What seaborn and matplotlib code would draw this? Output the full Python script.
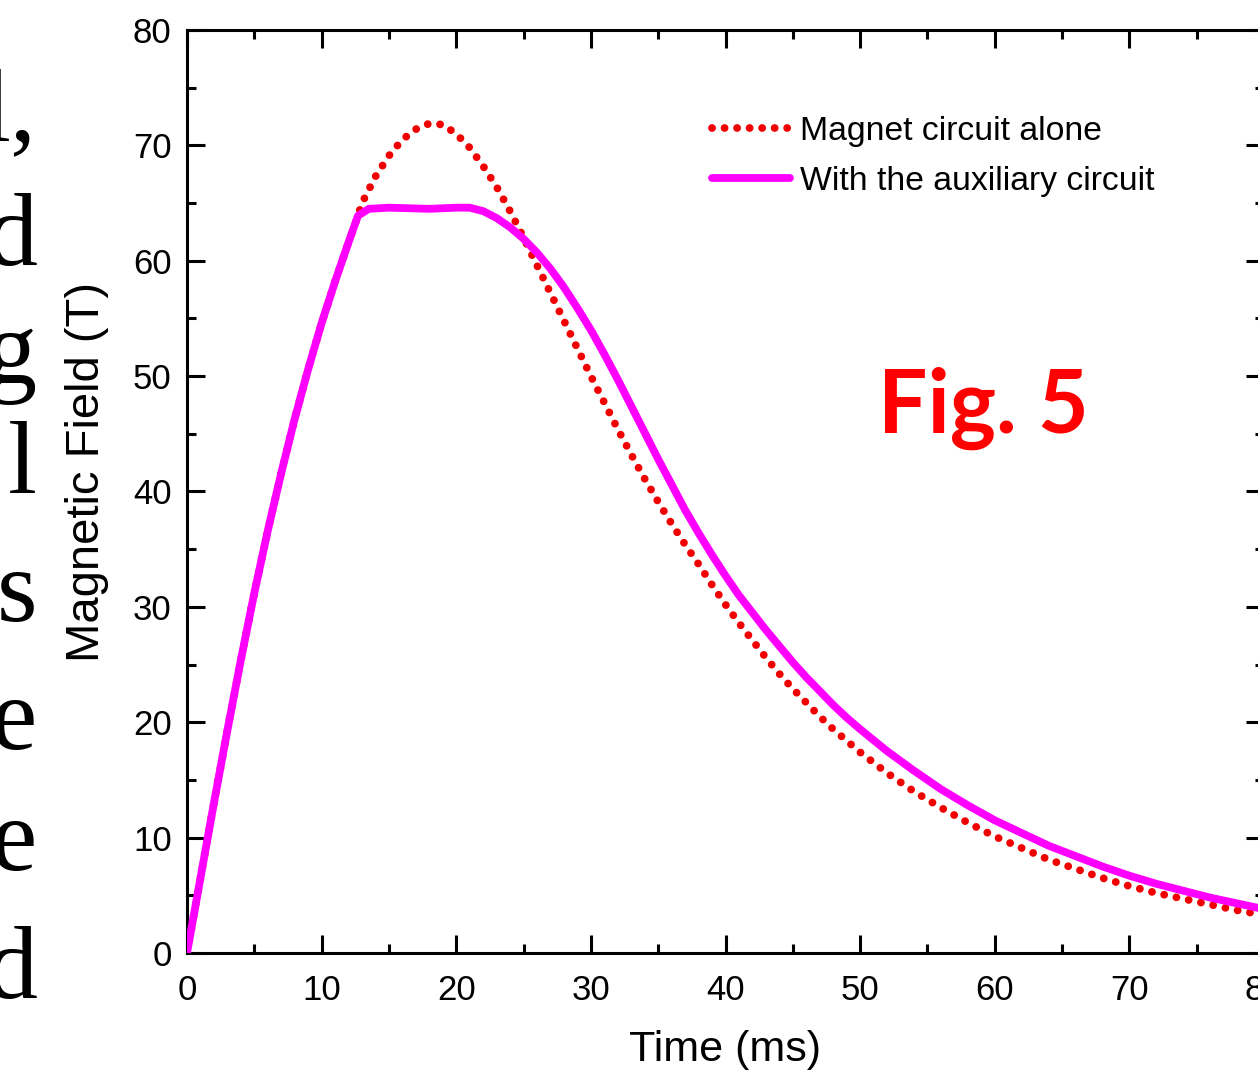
import matplotlib
matplotlib.use('Agg')
import matplotlib.pyplot as plt
from matplotlib.ticker import MultipleLocator
import pandas as pd
import seaborn as sns

# ---------------------------
# Data
# ---------------------------
t_alone = [0, 1, 2, 3, 4, 5, 6, 7, 8, 9, 10, 11, 12, 12.7, 13, 14, 15, 16, 17, 18,
           19, 20, 21, 22, 23, 24, 25, 26, 27, 28, 29, 30, 31, 32, 33, 34, 35, 36,
           37, 38, 39, 40, 41, 42, 43, 44, 45, 46, 47, 48, 49, 50, 52, 54, 56, 58,
           60, 62, 64, 66, 68, 70, 72, 74, 76, 78, 80]
b_alone = [0, 6.5, 13.0, 19.3, 25.4, 31.2, 36.6, 41.6, 46.3, 50.6, 54.6, 58.2, 61.6,
           63.9, 65.0, 67.3, 69.1, 70.5, 71.4, 71.9, 71.8, 71.0, 69.8, 68.2, 66.4,
           64.3, 62.0, 59.6, 57.2, 54.8, 52.4, 50.0, 47.7, 45.4, 43.2, 41.1, 39.1,
           37.2, 35.4, 33.7, 31.9, 30.2, 28.6, 27.1, 25.6, 24.2, 22.9, 21.7, 20.5,
           19.4, 18.4, 17.4, 15.6, 14.0, 12.6, 11.3, 10.1, 9.1, 8.1, 7.3, 6.5, 5.8,
           5.2, 4.7, 4.2, 3.7, 3.3]

t_aux = [0, 1, 2, 3, 4, 5, 6, 7, 8, 9, 10, 11, 12, 12.7, 13.5, 15, 18, 20, 21, 22,
         23, 24, 25, 26, 27, 28, 29, 30, 31, 32, 33, 34, 35, 36, 37, 38, 39, 40,
         41, 42, 43, 44, 45, 46, 47, 48, 49, 50, 52, 54, 56, 58, 60, 62, 64, 66,
         68, 70, 72, 74, 76, 78, 80]
b_aux = [0, 6.5, 13.0, 19.3, 25.4, 31.2, 36.6, 41.6, 46.3, 50.6, 54.6, 58.2, 61.6,
         63.9, 64.5, 64.6, 64.5, 64.6, 64.6, 64.3, 63.7, 62.9, 61.9, 60.7, 59.3,
         57.7, 55.9, 54.0, 51.9, 49.7, 47.4, 45.1, 42.8, 40.6, 38.4, 36.4, 34.5,
         32.7, 31.0, 29.5, 28.0, 26.6, 25.2, 23.9, 22.7, 21.5, 20.4, 19.4, 17.5,
         15.8, 14.2, 12.8, 11.5, 10.4, 9.3, 8.4, 7.5, 6.7, 6.0, 5.4, 4.8, 4.3, 3.8]

label_alone = "Magnet circuit alone"
label_aux = "With the auxiliary circuit"

# cut-off slide text on the left edge
side_letters = ["l,", "d", "g", "l", "s", "e", "e", "d"]
side_baselines = [140, 265, 383, 493, 621, 749, 870, 998]

df_alone = pd.DataFrame({"t": t_alone, "B": b_alone})
df_aux = pd.DataFrame({"t": t_aux, "B": b_aux})

# ---------------------------
# Plot
# ---------------------------
sns.set_theme(style="ticks")
plt.rcParams['font.family'] = ['Liberation Sans', 'DejaVu Sans']
plt.rcParams['text.color'] = 'black'
plt.rcParams['axes.labelcolor'] = 'black'
plt.rcParams['xtick.color'] = 'black'
plt.rcParams['ytick.color'] = 'black'

W, H = 1258, 1080
fig = plt.figure(figsize=(W / 100, H / 100), dpi=100)
fig.patch.set_facecolor("white")

x0, x1, y_top, y_bot = 187, 1264, 30, 953
ax = fig.add_axes([x0 / W, 1 - y_bot / H, (x1 - x0) / W, (y_bot - y_top) / H])
ax.set_facecolor("white")

sns.lineplot(data=df_alone, x="t", y="B", ax=ax, color="#f00000", linewidth=5.6,
             linestyle=(0, (0.01, 1.6)), dash_capstyle="round",
             label=label_alone, sort=False, zorder=2)
sns.lineplot(data=df_aux, x="t", y="B", ax=ax, color="#ff00ff", linewidth=5.6,
             label=label_aux, sort=False, zorder=3)

ax.set_xlim(0, 80)
ax.set_ylim(0, 80)
ax.xaxis.set_major_locator(MultipleLocator(10))
ax.xaxis.set_minor_locator(MultipleLocator(5))
ax.yaxis.set_major_locator(MultipleLocator(10))
ax.yaxis.set_minor_locator(MultipleLocator(5))

for s in ax.spines.values():
    s.set_linewidth(2.2)
    s.set_color("black")
    s.set_visible(True)

ax.tick_params(which="both", direction="in", top=True, right=True,
               width=2.2, color="black")
ax.tick_params(which="major", length=13)
ax.tick_params(which="minor", length=6.5)
ax.tick_params(axis="x", which="major", labelsize=25, pad=15)
ax.tick_params(axis="y", which="major", labelsize=25, pad=11)

ax.set_xlabel("Time (ms)", fontsize=31, labelpad=17)
ax.set_ylabel("Magnetic Field (T)", fontsize=34)
ax.yaxis.set_label_coords(-0.072, 0.521)

ax.legend(loc="upper left", bbox_to_anchor=(712 / W, 1 - 116 / H),
          bbox_transform=fig.transFigure, frameon=False, fontsize=24.3,
          borderpad=0, borderaxespad=0, handlelength=2.3,
          handletextpad=0.3, labelspacing=0.55)

fig.text(983 / W, 1 - 408 / H, "Fig. 5", color="#ff0000", fontsize=63,
         fontweight="bold", family=["Lato", "DejaVu Sans"],
         ha="center", va="center")

for letter, base in zip(side_letters, side_baselines):
    fig.text(37 / W, 1 - base / H, letter, fontsize=75,
             family=["Liberation Serif", "DejaVu Serif"],
             ha="right", va="baseline", color="black")

fig.savefig("out.png", dpi=100, facecolor="white")
plt.close(fig)
